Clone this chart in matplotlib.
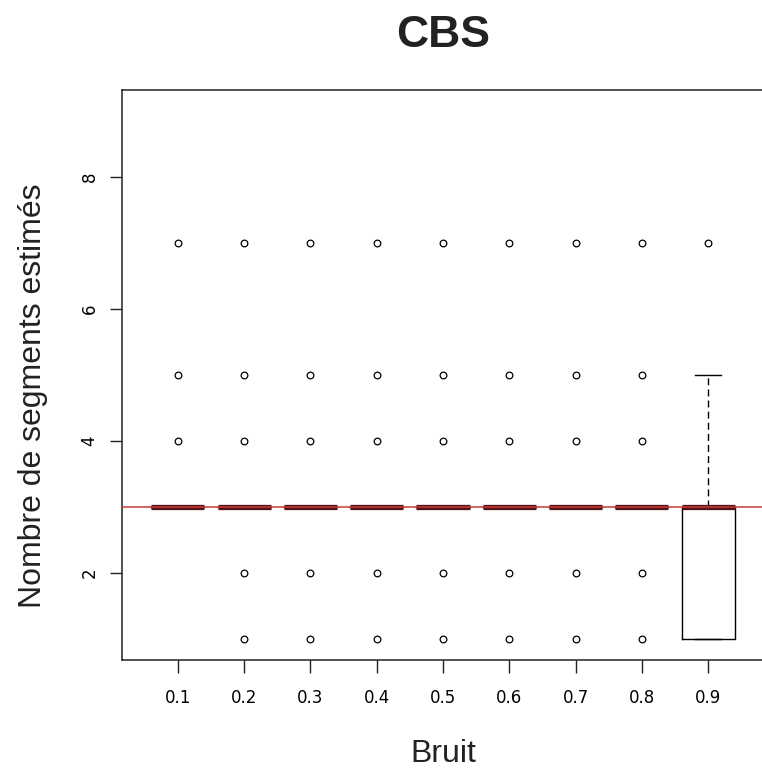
import matplotlib
matplotlib.use("Agg")
import matplotlib.pyplot as plt

# Noise levels (one box per level)
noise_labels = ["0.1", "0.2", "0.3", "0.4", "0.5", "0.6", "0.7", "0.8", "0.9"]

# Box statistics
medians = [3, 3, 3, 3, 3, 3, 3, 3, 3]
q1 = [3, 3, 3, 3, 3, 3, 3, 3, 1]
q3 = [3, 3, 3, 3, 3, 3, 3, 3, 3]
whisker_low = [3, 3, 3, 3, 3, 3, 3, 3, 1]
whisker_high = [3, 3, 3, 3, 3, 3, 3, 3, 5]
outliers = [
    [4, 5, 7],
    [1, 2, 4, 5, 7],
    [1, 2, 4, 5, 7],
    [1, 2, 4, 5, 7],
    [1, 2, 4, 5, 7],
    [1, 2, 4, 5, 7],
    [1, 2, 4, 5, 7],
    [1, 2, 4, 5, 7],
    [7],
]

# True number of segments
true_segments = 3

stats = []
for i, label in enumerate(noise_labels):
    stats.append({
        "label": label,
        "med": medians[i],
        "q1": q1[i],
        "q3": q3[i],
        "whislo": whisker_low[i],
        "whishi": whisker_high[i],
        "fliers": outliers[i],
    })

plt.rcParams["font.family"] = ["Liberation Sans", "DejaVu Sans"]

fig = plt.figure(figsize=(7.62, 7.69), dpi=100)
ax = fig.add_axes([122 / 762, 1 - 660 / 769, 642 / 762, 570 / 769])

positions = list(range(1, len(noise_labels) + 1))

ax.bxp(
    stats,
    positions=positions,
    widths=0.8,
    patch_artist=False,
    boxprops=dict(color="black", linewidth=1.0),
    whiskerprops=dict(color="black", linewidth=1.0, linestyle=(0, (5, 3))),
    capprops=dict(color="black", linewidth=1.0),
    medianprops=dict(color="#521414", linewidth=3.8, solid_capstyle="butt"),
    flierprops=dict(marker="o", markersize=4.8, markerfacecolor="none",
                    markeredgecolor="black", markeredgewidth=0.9),
)

ax.axhline(true_segments, color="#c83c3c", linewidth=1.1, zorder=5)

ax.set_xlim(0.155, 9.845)
ax.set_ylim(0.68, 9.32)
ax.set_yticks([2, 4, 6, 8])
ax.set_xticks(positions)
ax.set_xticklabels(noise_labels, family="DejaVu Sans", fontsize=12)
for t in ax.get_yticklabels():
    t.set_rotation(90)
    t.set_va("center")
    t.set_family("DejaVu Sans")
    t.set_fontsize(12)

ax.tick_params(axis="both", direction="out", length=9, width=1.0, color="#222222")
ax.tick_params(axis="x", pad=12)
ax.tick_params(axis="y", pad=8)

for spine in ax.spines.values():
    spine.set_linewidth(1.1)
    spine.set_color("#222222")

ax.set_title("CBS", fontsize=32, fontweight="bold", color="#222222",
             va="baseline", y=(660 - 47) / 570, pad=0)

ax.set_xlabel("Bruit", fontsize=23, color="#222222")
ax.xaxis.set_label_coords(0.5, -(762 - 660) / 570)
ax.xaxis.label.set_va("baseline")

ax.set_ylabel("Nombre de segments estimés", fontsize=23, color="#222222")
ax.yaxis.set_label_coords(-(122 - 33) / 642, (660 - 396) / 570)
ax.yaxis.label.set_va("center")

fig.savefig("out.png", dpi=100)
